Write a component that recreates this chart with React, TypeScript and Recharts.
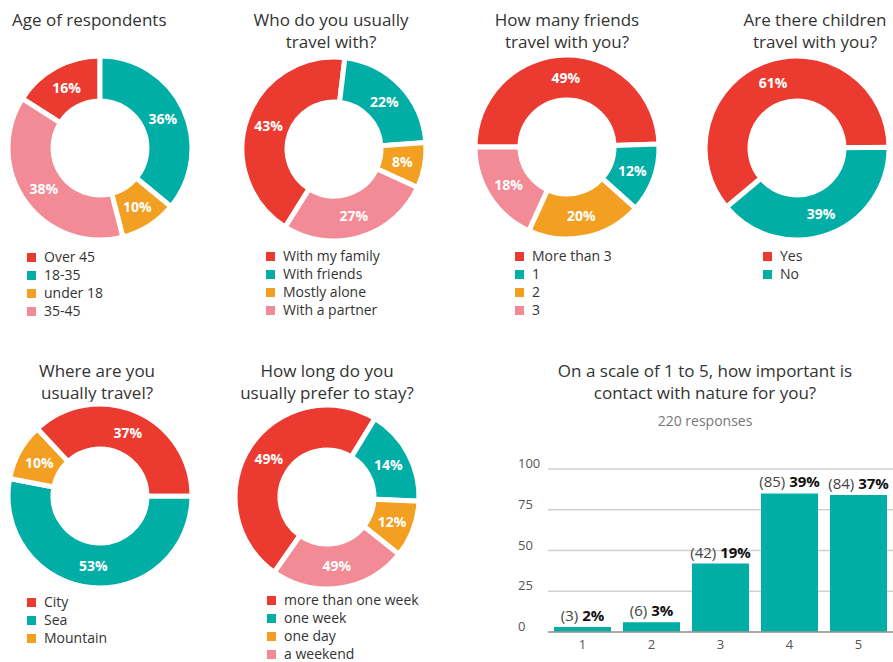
import { PieChart, Pie, Cell, BarChart, Bar, XAxis, YAxis, CartesianGrid, LabelList } from "recharts";

const RED = "#eb3b31";
const TEAL = "#00aea6";
const ORANGE = "#f29f22";
const PINK = "#f28b95";
const FONT = "'Open Sans', sans-serif";

const ageNames = ["Over 45", "18-35", "under 18", "35-45"];
const ageValues = [16, 36, 10, 38];

const companyNames = ["With my family", "With friends", "Mostly alone", "With a partner"];
const companyValues = [43, 22, 8, 27];

const friendsNames = ["More than 3", "1", "2", "3"];
const friendsValues = [49, 12, 20, 18];

const childrenNames = ["Yes", "No"];
const childrenValues = [61, 39];

const placeNames = ["City", "Sea", "Mountain"];
const placeValues = [37, 53, 10];

const stayNames = ["more than one week", "one week", "one day", "a weekend"];
const stayValues = [49, 17, 10, 24];
const stayLabels = ["49%", "14%", "12%", "49%"];

const scaleNames = ["1", "2", "3", "4", "5"];
const scaleCounts = [3, 6, 42, 85, 84];
const scalePercents = [2, 3, 19, 39, 37];
const scaleTicks = [0, 25, 50, 75, 100];

const COLORS = [RED, TEAL, ORANGE, PINK];
const RAD = Math.PI / 180;

function Title({ lines, x, y, align = "center", size = 17 }: any) {
  return (
    <div
      style={{
        position: "absolute",
        left: align === "center" ? x - 150 : x,
        top: y - 12,
        width: align === "center" ? 300 : undefined,
        textAlign: align,
        fontFamily: FONT,
        fontSize: size,
        lineHeight: "22px",
        color: "#333",
        whiteSpace: "nowrap",
      }}
    >
      {lines.map((l: string) => (
        <div key={l}>{l}</div>
      ))}
    </div>
  );
}

function LegendList({ names, x, y }: any) {
  return (
    <div style={{ position: "absolute", left: x, top: y - 9, fontFamily: FONT, fontSize: 14, color: "#333" }}>
      {names.map((n: string, i: number) => (
        <div key={n} style={{ height: 18, lineHeight: "18px", display: "flex", alignItems: "center" }}>
          <span style={{ width: 9, height: 9, background: COLORS[i], marginRight: 8, display: "inline-block" }} />
          {n}
        </div>
      ))}
    </div>
  );
}

function Donut({ names, values, labels, cx, cy, start }: any) {
  const data = names.map((n: string, i: number) => ({ name: n, value: values[i] }));
  const renderLabel = (p: any) => {
    const r = (p.innerRadius + p.outerRadius) / 2;
    const x = p.cx + r * Math.cos(-p.midAngle * RAD);
    const y = p.cy + r * Math.sin(-p.midAngle * RAD);
    const text = labels ? labels[p.index] : `${values[p.index]}%`;
    return (
      <text x={x} y={y} fill="#fff" textAnchor="middle" dominantBaseline="central" fontFamily={FONT} fontWeight={700} fontSize={14}>
        {text}
      </text>
    );
  };
  return (
    <div style={{ position: "absolute", left: cx - 100, top: cy - 100 }}>
      <PieChart width={200} height={200}>
        <Pie
          data={data}
          dataKey="value"
          cx="50%"
          cy="50%"
          innerRadius={47}
          outerRadius={92}
          startAngle={start}
          endAngle={start - 360}
          stroke="#fff"
          strokeWidth={5}
          label={renderLabel}
          labelLine={false}
          isAnimationActive={false}
        >
          {data.map((d: any, i: number) => (
            <Cell key={d.name} fill={COLORS[i]} />
          ))}
        </Pie>
      </PieChart>
    </div>
  );
}

const barData = scaleNames.map((n, i) => ({ name: n, count: scaleCounts[i], pct: scalePercents[i] }));

function BarLabel(props: any) {
  const { x, y, width, index } = props;
  return (
    <text x={x + width / 2} y={y - 6} textAnchor="middle" fontFamily={FONT} fontSize={15}>
      <tspan fill="#444">({scaleCounts[index]}) </tspan>
      <tspan fill="#111" fontWeight={700}>{scalePercents[index]}%</tspan>
    </text>
  );
}

function YTick({ y, payload }: any) {
  return (
    <text x={18} y={y - 1} textAnchor="start" fontFamily={FONT} fontSize={13} fill="#555">
      {payload.value}
    </text>
  );
}

export default function App() {
  return (
    <div style={{ position: "absolute", left: 0, top: 0, width: 893, height: 662, background: "#fff", overflow: "hidden" }}>
      <Title lines={["Age of respondents"]} x={12} y={21} align="left" />
      <Donut names={ageNames} values={ageValues} cx={100} cy={148} start={147.6} />
      <LegendList names={ageNames} x={27} y={257} />

      <Title lines={["Who do you usually", "travel with?"]} x={331} y={21} />
      <Donut names={companyNames} values={companyValues} cx={334} cy={149} start={238} />
      <LegendList names={companyNames} x={266} y={256} />

      <Title lines={["How many friends", "travel with you?"]} x={567} y={21} />
      <Donut names={friendsNames} values={friendsValues} cx={567} cy={147} start={180} />
      <LegendList names={friendsNames} x={515} y={256} />

      <Title lines={["Are there children", "travel with you?"]} x={815} y={21} />
      <Donut names={childrenNames} values={childrenValues} cx={797} cy={148} start={220} />
      <LegendList names={childrenNames} x={763} y={256} />

      <Title lines={["Where are you", "usually travel?"]} x={97} y={372} />
      <Donut names={placeNames} values={placeValues} cx={100} cy={496} start={133} />
      <LegendList names={placeNames} x={27} y={602} />

      <Title lines={["How long do you", "usually prefer to stay?"]} x={327} y={372} />
      <Donut names={stayNames} values={stayValues} labels={stayLabels} cx={327} cy={497} start={235} />
      <LegendList names={stayNames} x={267} y={600} />

      <Title lines={["On a scale of 1 to 5, how important is", "contact with nature for you?"]} x={705} y={372} />
      <div style={{ position: "absolute", left: 555, top: 411, width: 300, textAlign: "center", fontFamily: FONT, fontSize: 14, color: "#777" }}>
        220 responses
      </div>
      <div style={{ position: "absolute", left: 500, top: 455 }}>
        <BarChart width={393} height={207} data={barData} margin={{ top: 14, right: 0, bottom: 0, left: 0 }}>
          <CartesianGrid vertical={false} stroke="#d0d0d0" strokeWidth={1.5} />
          <XAxis
            dataKey="name"
            axisLine={{ stroke: "#999", strokeWidth: 1.5 }}
            tickLine={false}
            tick={{ fontFamily: FONT, fontSize: 13, fill: "#555" }}
          />
          <YAxis width={48} domain={[0, 100]} ticks={scaleTicks} axisLine={false} tickLine={false} tick={<YTick />} />
          <Bar dataKey="count" fill={TEAL} barSize={57} isAnimationActive={false}>
            <LabelList dataKey="count" content={<BarLabel />} />
          </Bar>
        </BarChart>
      </div>
    </div>
  );
}
